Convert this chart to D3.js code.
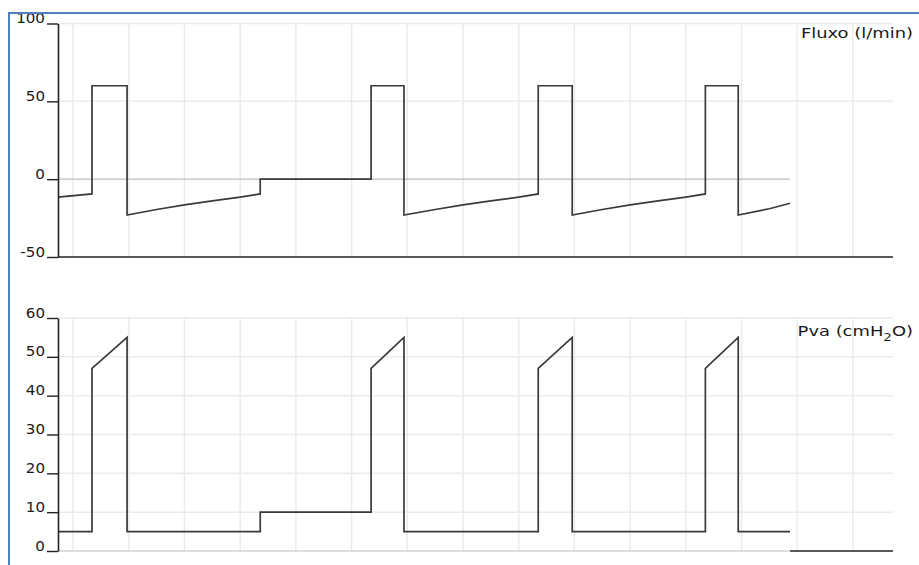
<!DOCTYPE html>
<html>
<head>
<meta charset="utf-8">
<script src="https://cdn.jsdelivr.net/npm/d3@7"></script>
<style>
  body { margin: 0; background: #fff; }
  text { font-family: "DejaVu Sans", Verdana, sans-serif; }
</style>
</head>
<body>
<script>
// data (time in seconds, one grid column per second)
const gridTimes = [0, 1, 2, 3, 4, 5, 6, 7, 8, 9, 10, 11, 12, 13, 14];

const flowTicks = [-50, 0, 50, 100];
const flowTime = [-0.27, 0.34, 0.34, 0.97, 0.97, 1.5, 2.0, 2.5, 3.0, 3.36, 3.36, 5.35,
  5.35, 5.94, 5.94, 6.5, 7.0, 7.5, 8.0, 8.35, 8.35, 8.96, 8.96, 9.5, 10.0, 10.5, 11.0,
  11.35, 11.35, 11.94, 11.94, 12.5, 12.87];
const flowValues = [-11.5, -9.5, 60, 60, -23, -19.5, -16.5, -14, -11.5, -9.5, 0, 0,
  60, 60, -23, -19.5, -16.5, -14, -11.5, -9.5, 60, 60, -23, -19.5, -16.5, -14, -11.5,
  -9.5, 60, 60, -23, -19, -15.5];

const pvaTicks = [0, 10, 20, 30, 40, 50, 60];
const pvaTime = [-0.27, 0.34, 0.34, 0.97, 0.97, 3.36, 3.36, 5.35, 5.35, 5.94, 5.94,
  8.35, 8.35, 8.96, 8.96, 11.35, 11.35, 11.94, 11.94, 12.87];
const pvaValues = [5, 5, 47, 55, 5, 5, 10, 10, 47, 55, 5, 5, 47, 55, 5, 5, 47, 55, 5, 5];

// config
const config = {
  width: 919,
  height: 565,
  left: 58,
  right: 892,
  border: '#4f81bd',
  grid: '#ebebeb',
  zeroLine: '#bdbdbd',
  axis: '#222',
  line: '#3a3a3a',
  titleScale: 1.28, // the titles are drawn wide in the original
  tickScale: 1.12,
};

const svg = d3.select('body').append('svg')
  .attr('width', config.width)
  .attr('height', config.height);

svg.append('rect')
  .attr('width', config.width)
  .attr('height', config.height)
  .attr('fill', '#fff');

const x = d3.scaleLinear()
  .domain([-0.27, 14.7])
  .range([config.left, config.right]);

const dataEnd = x(flowTime[flowTime.length - 1]);

function drawPanel(opts) {
  const g = svg.append('g');
  const y = d3.scaleLinear().domain(opts.domain).range(opts.range);
  const yTop = opts.range[1], yBottom = opts.range[0];

  // vertical grid
  g.selectAll('.vgrid')
    .data(gridTimes)
    .enter().append('line')
    .attr('x1', d => x(d)).attr('x2', d => x(d))
    .attr('y1', yTop).attr('y2', yBottom)
    .attr('stroke', config.grid)
    .attr('stroke-width', 1.5);

  // horizontal grid (skip the base line)
  g.selectAll('.hgrid')
    .data(opts.ticks.filter(d => d !== opts.domain[0] && d !== opts.zero))
    .enter().append('line')
    .attr('x1', config.left).attr('x2', config.right + 1)
    .attr('y1', d => y(d)).attr('y2', d => y(d))
    .attr('stroke', config.grid)
    .attr('stroke-width', 1.5);

  // gray zero line, only under the recorded part
  g.append('line')
    .attr('x1', config.left).attr('x2', dataEnd)
    .attr('y1', y(opts.zero)).attr('y2', y(opts.zero))
    .attr('stroke', config.zeroLine)
    .attr('stroke-width', 1.2);

  // dark base line
  g.append('line')
    .attr('x1', opts.zero === opts.domain[0] ? dataEnd : config.left)
    .attr('x2', config.right + 1)
    .attr('y1', y(opts.domain[0])).attr('y2', y(opts.domain[0]))
    .attr('stroke', config.axis)
    .attr('stroke-width', 1.6);

  // data
  const pts = opts.time.map((t, i) => [t, opts.values[i]]);
  g.append('path')
    .datum(pts)
    .attr('fill', 'none')
    .attr('stroke', config.line)
    .attr('stroke-width', 1.7)
    .attr('d', d3.line().x(d => x(d[0])).y(d => y(d[1])));

  // y axis
  const axis = g.append('g')
    .attr('transform', `translate(${config.left},0)`)
    .call(d3.axisLeft(y).tickValues(opts.ticks).tickSize(11).tickSizeOuter(0)
      .tickFormat(d => String(d)));
  axis.select('.domain').attr('stroke', config.axis).attr('stroke-width', 1.6);
  axis.selectAll('.tick line').attr('stroke', config.axis).attr('stroke-width', 1.4);
  axis.selectAll('.tick text')
    .attr('x', 0)
    .attr('dy', 0)
    .attr('transform', `translate(-13,-1) scale(${config.tickScale},1)`)
    .attr('fill', '#1a1a1a')
    .style('font-size', '13.5px')
    .style('font-weight', 500);

  // title
  const title = g.append('text')
    .attr('transform', `translate(913,${opts.titleY}) scale(${config.titleScale},1)`)
    .attr('text-anchor', 'end')
    .attr('fill', '#1a1a1a')
    .style('font-size', '14px');
  opts.title(title);
}

drawPanel({
  domain: [-50, 100],
  range: [257, 23.5],
  ticks: flowTicks,
  zero: 0,
  time: flowTime,
  values: flowValues,
  titleY: 38,
  title: t => t.text('Fluxo (l/min)'),
});

drawPanel({
  domain: [0, 60],
  range: [551, 318],
  ticks: pvaTicks,
  zero: 0,
  time: pvaTime,
  values: pvaValues,
  titleY: 336,
  title: t => {
    t.append('tspan').text('Pva (cmH');
    t.append('tspan').attr('dy', 5).style('font-size', '10.5px').text('2');
    t.append('tspan').attr('dy', -5).text('O)');
  },
});

// frame: blue border at top and left
svg.append('rect')
  .attr('width', config.width)
  .attr('height', 13)
  .attr('fill', '#fff');
svg.append('line')
  .attr('x1', 8).attr('x2', config.width)
  .attr('y1', 13).attr('y2', 13)
  .attr('stroke', config.border)
  .attr('stroke-width', 2);
svg.append('line')
  .attr('x1', 9).attr('x2', 9)
  .attr('y1', 12).attr('y2', config.height)
  .attr('stroke', config.border)
  .attr('stroke-width', 2);
</script>
</body>
</html>
